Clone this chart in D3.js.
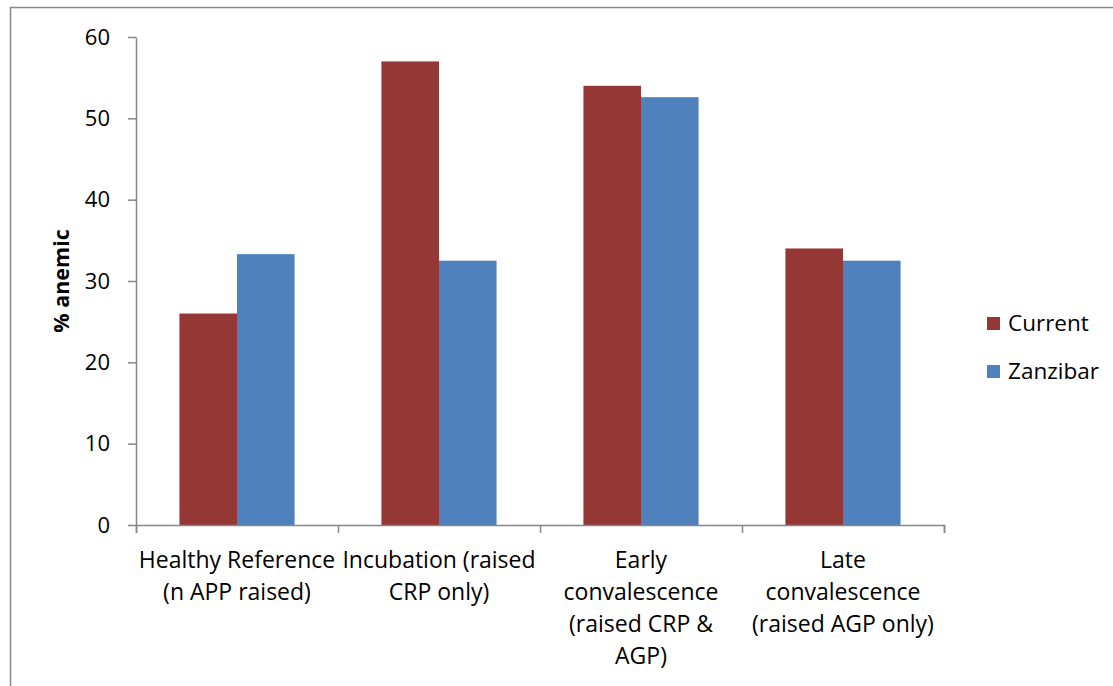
<!DOCTYPE html>
<html>
<head>
<meta charset="utf-8">
<script src="https://cdn.jsdelivr.net/npm/d3@7"></script>
<style>
  body { margin: 0; background: #fff; }
  text { font-family: "Open Sans", sans-serif; fill: #000; }
</style>
</head>
<body>
<div class="chart"></div>
<script>
var width = 1113;
var height = 686;

// data
var categories = [
	['Healthy Reference', '(n APP raised)'],
	['Incubation (raised', 'CRP only)'],
	['Early', 'convalescence', '(raised CRP &', 'AGP)'],
	['Late', 'convalescence', '(raised AGP only)']
];
var seriesNames = ['Current', 'Zanzibar'];
var current = [26, 57, 54, 34];
var zanzibar = [33.3, 32.5, 52.6, 32.5];
var yTicks = [0, 10, 20, 30, 40, 50, 60];
var colors = ['#953735', '#4f81bd'];

var rows = categories.map(function(c, i){
	return { key: i, values: [current[i], zanzibar[i]] };
});

var svg = d3.select('.chart')
	.append('svg')
	.attr('width', width)
	.attr('height', height);

// outer frame
svg.append('rect')
	.attr('x', 10.5).attr('y', 7.5)
	.attr('width', width + 20).attr('height', height + 20)
	.attr('fill', 'none')
	.attr('stroke', '#888')
	.attr('stroke-width', 1.5);

var x0 = d3.scaleBand()
	.domain(d3.range(categories.length))
	.range([136, 944])
	.paddingInner(0.43)
	.paddingOuter(0.215);

var x1 = d3.scaleBand()
	.domain([0, 1])
	.range([0, x0.bandwidth()]);

var y = d3.scaleLinear().domain([0, 60]).range([525, 37]);

// bars
var groups = svg.selectAll('.grp')
	.data(rows)
	.enter().append('g')
	.attr('class', 'grp')
	.attr('transform', function(d){ return 'translate(' + x0(d.key) + ',0)'; });

groups.selectAll('rect')
	.data(function(d){ return d.values; })
	.enter().append('rect')
	.attr('x', function(d, i){ return x1(i); })
	.attr('y', function(d){ return y(d); })
	.attr('width', x1.bandwidth())
	.attr('height', function(d){ return y(0) - y(d); })
	.attr('fill', function(d, i){ return colors[i]; });

// y axis
var yAxis = svg.append('g')
	.attr('transform', 'translate(136,0)')
	.call(d3.axisLeft(y).tickValues(yTicks).tickSize(8).tickSizeOuter(0).tickPadding(18));
yAxis.selectAll('path, line').attr('stroke', '#868686').attr('stroke-width', 1.5);
yAxis.selectAll('text').attr('font-size', 22).attr('font-family', '"Open Sans", sans-serif').attr('fill', '#000');

// x axis: ticks at category boundaries
var xAxisScale = d3.scaleLinear().domain([0, categories.length]).range([136, 944]);
var xAxis = svg.append('g')
	.attr('transform', 'translate(0,525)')
	.call(d3.axisBottom(xAxisScale).ticks(4).tickSize(8).tickSizeOuter(8).tickFormat(''));
xAxis.selectAll('path, line').attr('stroke', '#868686').attr('stroke-width', 1.5);

// category labels
var labels = svg.selectAll('.cat')
	.data(categories)
	.enter().append('text')
	.attr('class', 'cat')
	.attr('text-anchor', 'middle')
	.attr('font-size', 23);
labels.selectAll('tspan')
	.data(function(d, i){ return d.map(function(t){ return { t: t, i: i }; }); })
	.enter().append('tspan')
	.attr('x', function(d){ return x0(d.i) + x0.bandwidth() / 2; })
	.attr('y', function(d, j){ return 568 + j * 32; })
	.text(function(d){ return d.t; });

// y title
svg.append('text')
	.attr('transform', 'translate(69,281) rotate(-90)')
	.attr('text-anchor', 'middle')
	.attr('font-size', 21.5)
	.attr('font-weight', 'bold')
	.text('% anemic');

// legend
var legend = svg.selectAll('.leg')
	.data(seriesNames)
	.enter().append('g')
	.attr('class', 'leg')
	.attr('transform', function(d, i){ return 'translate(987,' + (317 + i * 48) + ')'; });
legend.append('rect')
	.attr('width', 13).attr('height', 13)
	.attr('fill', function(d, i){ return colors[i]; });
legend.append('text')
	.attr('x', 21).attr('y', 14)
	.attr('font-size', 22.5)
	.text(function(d){ return d; });
</script>
</body>
</html>
